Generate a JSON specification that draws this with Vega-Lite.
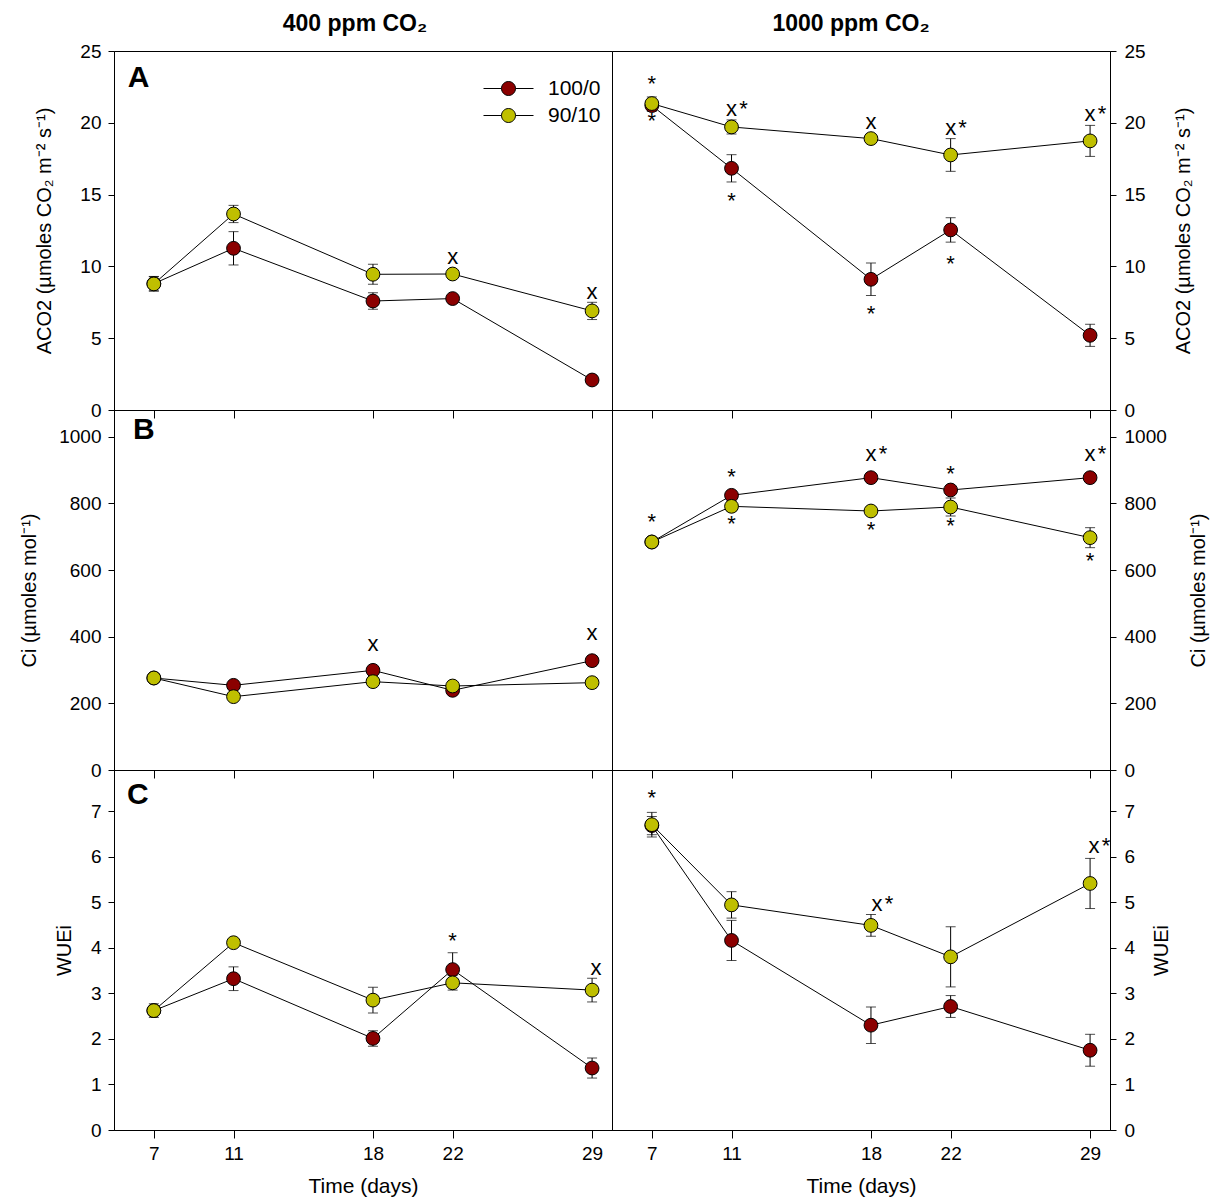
{
  "$schema": "https://vega.github.io/schema/vega-lite/v6.json",
  "padding": {"left": 19, "top": 12, "right": 5, "bottom": 5},
  "background": "white",
  "config": {
    "font": "Liberation Sans",
    "view": {"stroke": "black", "strokeWidth": 1},
    "axis": {"grid": false, "domainColor": "black", "tickColor": "black", "labelColor": "black", "titleColor": "black", "titleFontWeight": "normal", "labelFontSize": 19, "titleFontSize": 20, "labelFont": "Liberation Sans", "titleFont": "Liberation Sans", "labelFlush": false, "labelOverlap": false, "tickSize": 6, "labelPadding": 7},
    "title": {"font": "Liberation Sans", "color": "black", "fontSize": 23, "fontWeight": "bold", "offset": 6, "anchor": "middle"},
    "legend": {"labelFont": "Liberation Sans", "labelColor": "black"}
  },
  "datasets": {
    "obs": [
      {"panel": "A400", "series": "100/0", "day": 7, "value": 8.8, "err": 0.5},
      {"panel": "A400", "series": "100/0", "day": 11, "value": 11.26, "err": 1.16},
      {"panel": "A400", "series": "100/0", "day": 18, "value": 7.59, "err": 0.58},
      {"panel": "A400", "series": "100/0", "day": 22, "value": 7.76, "err": 0.15},
      {"panel": "A400", "series": "100/0", "day": 29, "value": 2.09, "err": 0.15},
      {"panel": "A400", "series": "90/10", "day": 7, "value": 8.78, "err": 0.5},
      {"panel": "A400", "series": "90/10", "day": 11, "value": 13.65, "err": 0.6},
      {"panel": "A400", "series": "90/10", "day": 18, "value": 9.45, "err": 0.7},
      {"panel": "A400", "series": "90/10", "day": 22, "value": 9.47, "err": 0.15},
      {"panel": "A400", "series": "90/10", "day": 29, "value": 6.9, "err": 0.6},
      {"panel": "A1000", "series": "100/0", "day": 7, "value": 21.2, "err": 0.4},
      {"panel": "A1000", "series": "100/0", "day": 11, "value": 16.83, "err": 0.95},
      {"panel": "A1000", "series": "100/0", "day": 18, "value": 9.1, "err": 1.13},
      {"panel": "A1000", "series": "100/0", "day": 22, "value": 12.54, "err": 0.85},
      {"panel": "A1000", "series": "100/0", "day": 29, "value": 5.2, "err": 0.77},
      {"panel": "A1000", "series": "90/10", "day": 7, "value": 21.34, "err": 0.46},
      {"panel": "A1000", "series": "90/10", "day": 11, "value": 19.71, "err": 0.49},
      {"panel": "A1000", "series": "90/10", "day": 18, "value": 18.9, "err": 0.3},
      {"panel": "A1000", "series": "90/10", "day": 22, "value": 17.76, "err": 1.14},
      {"panel": "A1000", "series": "90/10", "day": 29, "value": 18.74, "err": 1.08},
      {"panel": "B400", "series": "100/0", "day": 7, "value": 276, "err": 10},
      {"panel": "B400", "series": "100/0", "day": 11, "value": 254, "err": 10},
      {"panel": "B400", "series": "100/0", "day": 18, "value": 299, "err": 10},
      {"panel": "B400", "series": "100/0", "day": 22, "value": 239, "err": 10},
      {"panel": "B400", "series": "100/0", "day": 29, "value": 328, "err": 15},
      {"panel": "B400", "series": "90/10", "day": 7, "value": 276, "err": 8},
      {"panel": "B400", "series": "90/10", "day": 11, "value": 220, "err": 8},
      {"panel": "B400", "series": "90/10", "day": 18, "value": 265, "err": 8},
      {"panel": "B400", "series": "90/10", "day": 22, "value": 252, "err": 8},
      {"panel": "B400", "series": "90/10", "day": 29, "value": 262, "err": 15},
      {"panel": "B1000", "series": "100/0", "day": 7, "value": 684, "err": 8},
      {"panel": "B1000", "series": "100/0", "day": 11, "value": 824, "err": 10},
      {"panel": "B1000", "series": "100/0", "day": 18, "value": 877, "err": 8},
      {"panel": "B1000", "series": "100/0", "day": 22, "value": 840, "err": 8},
      {"panel": "B1000", "series": "100/0", "day": 29, "value": 877, "err": 8},
      {"panel": "B1000", "series": "90/10", "day": 7, "value": 684, "err": 10},
      {"panel": "B1000", "series": "90/10", "day": 11, "value": 791, "err": 15},
      {"panel": "B1000", "series": "90/10", "day": 18, "value": 777, "err": 10},
      {"panel": "B1000", "series": "90/10", "day": 22, "value": 789, "err": 27},
      {"panel": "B1000", "series": "90/10", "day": 29, "value": 697, "err": 30},
      {"panel": "C400", "series": "100/0", "day": 7, "value": 2.62, "err": 0.1},
      {"panel": "C400", "series": "100/0", "day": 11, "value": 3.32, "err": 0.26},
      {"panel": "C400", "series": "100/0", "day": 18, "value": 2.01, "err": 0.17},
      {"panel": "C400", "series": "100/0", "day": 22, "value": 3.52, "err": 0.37},
      {"panel": "C400", "series": "100/0", "day": 29, "value": 1.36, "err": 0.22},
      {"panel": "C400", "series": "90/10", "day": 7, "value": 2.62, "err": 0.15},
      {"panel": "C400", "series": "90/10", "day": 11, "value": 4.11, "err": 0.05},
      {"panel": "C400", "series": "90/10", "day": 18, "value": 2.85, "err": 0.28},
      {"panel": "C400", "series": "90/10", "day": 22, "value": 3.23, "err": 0.16},
      {"panel": "C400", "series": "90/10", "day": 29, "value": 3.07, "err": 0.26},
      {"panel": "C1000", "series": "100/0", "day": 7, "value": 6.68, "err": 0.2},
      {"panel": "C1000", "series": "100/0", "day": 11, "value": 4.16, "err": 0.44},
      {"panel": "C1000", "series": "100/0", "day": 18, "value": 2.3, "err": 0.4},
      {"panel": "C1000", "series": "100/0", "day": 22, "value": 2.71, "err": 0.24},
      {"panel": "C1000", "series": "100/0", "day": 29, "value": 1.75, "err": 0.35},
      {"panel": "C1000", "series": "90/10", "day": 7, "value": 6.7, "err": 0.27},
      {"panel": "C1000", "series": "90/10", "day": 11, "value": 4.94, "err": 0.29},
      {"panel": "C1000", "series": "90/10", "day": 18, "value": 4.49, "err": 0.24},
      {"panel": "C1000", "series": "90/10", "day": 22, "value": 3.8, "err": 0.66},
      {"panel": "C1000", "series": "90/10", "day": 29, "value": 5.41, "err": 0.55}
    ],
    "ann": [
      {"panel": "A400", "day": 6.23, "value": 23.26, "label": "A"},
      {"panel": "A400", "day": 22, "value": 10.61, "label": "x"},
      {"panel": "A400", "day": 29, "value": 8.18, "label": "x"},
      {"panel": "A1000", "day": 7, "value": 23.1, "label": "*"},
      {"panel": "A1000", "day": 7, "value": 20.52, "label": "*"},
      {"panel": "A1000", "day": 11, "value": 20.89, "label": "x*"},
      {"panel": "A1000", "day": 11, "value": 14.95, "label": "*"},
      {"panel": "A1000", "day": 18, "value": 20.01, "label": "x"},
      {"panel": "A1000", "day": 18, "value": 7.13, "label": "*"},
      {"panel": "A1000", "day": 22, "value": 19.6, "label": "x*"},
      {"panel": "A1000", "day": 22, "value": 10.61, "label": "*"},
      {"panel": "A1000", "day": 29, "value": 20.52, "label": "x*"},
      {"panel": "B400", "day": 6.5, "value": 1025, "label": "B"},
      {"panel": "B400", "day": 18, "value": 375, "label": "x"},
      {"panel": "B400", "day": 29, "value": 407, "label": "x"},
      {"panel": "B1000", "day": 7, "value": 762, "label": "*"},
      {"panel": "B1000", "day": 11, "value": 897, "label": "*"},
      {"panel": "B1000", "day": 11, "value": 757, "label": "*"},
      {"panel": "B1000", "day": 18, "value": 945, "label": "x*"},
      {"panel": "B1000", "day": 18, "value": 737, "label": "*"},
      {"panel": "B1000", "day": 22, "value": 907, "label": "*"},
      {"panel": "B1000", "day": 22, "value": 749, "label": "*"},
      {"panel": "B1000", "day": 29, "value": 945, "label": "x*"},
      {"panel": "B1000", "day": 29, "value": 645, "label": "*"},
      {"panel": "C400", "day": 6.2, "value": 7.4, "label": "C"},
      {"panel": "C400", "day": 22, "value": 4.28, "label": "*"},
      {"panel": "C400", "day": 29.2, "value": 3.54, "label": "x"},
      {"panel": "C1000", "day": 7, "value": 7.42, "label": "*"},
      {"panel": "C1000", "day": 18.3, "value": 4.93, "label": "x*"},
      {"panel": "C1000", "day": 29.2, "value": 6.2, "label": "x*"}
    ]
  },
  "columns": 2,
  "spacing": 0,
  "bounds": "flush",
  "resolve": {"scale": {"x": "independent", "y": "independent", "fill": "independent"}, "axis": {"x": "independent", "y": "independent"}, "legend": {"fill": "independent"}},
  "concat": [
    {
      "width": 498, "height": 359,
      "title": {"text": "400 ppm CO₂", "dx": -8},
      "encoding": {
        "x": {"field": "day", "type": "quantitative", "scale": {"domain": [5, 30], "nice": false, "zero": false}, "axis": {"values": [7, 11, 18, 22, 29], "labels": false, "title": null, "tickSize": 8}},
        "y": {"field": "value", "type": "quantitative", "scale": {"domain": [0, 25], "nice": false}, "axis": {"orient": "left", "values": [0, 5, 10, 15, 20, 25], "format": "d", "title": "ACO2 (µmoles CO₂ m⁻² s⁻¹)", "titlePadding": 25}}
      },
      "layer": [
        {"data": {"name": "obs"}, "transform": [{"filter": "datum.panel === 'A400'"}], "mark": {"type": "errorbar", "color": "black", "ticks": {"size": 10}}, "encoding": {"yError": {"field": "err"}}},
        {"data": {"name": "obs"}, "transform": [{"filter": "datum.panel === 'A400'"}], "mark": {"type": "line", "color": "black", "strokeWidth": 1}, "encoding": {"detail": {"field": "series"}}},
        {"data": {"name": "ann"}, "transform": [{"filter": "datum.panel === 'A400' && (datum.label === 'x' || datum.label === 'x*')"}], "mark": {"type": "text", "text": "x", "fontSize": 22, "baseline": "alphabetic", "dy": 6, "color": "black"}},
        {"data": {"name": "ann"}, "transform": [{"filter": "datum.panel === 'A400' && (datum.label === 'A' || datum.label === 'B' || datum.label === 'C')"}], "mark": {"type": "text", "fontSize": 30, "fontWeight": "bold", "baseline": "alphabetic", "dy": 11, "color": "black"}, "encoding": {"text": {"field": "label"}}},
        {"data": {"name": "obs"}, "transform": [{"filter": "datum.panel === 'A400'"}], "mark": {"type": "point", "shape": "circle", "filled": true, "size": 190, "stroke": "black", "strokeWidth": 1, "opacity": 1},
          "encoding": {"fill": {"field": "series", "type": "nominal", "scale": {"domain": ["100/0", "90/10"], "range": ["#8B0000", "#BFBF00"]},
            "legend": {"title": null, "orient": "none", "legendX": 369, "legendY": 24, "symbolType": "M-1,0L-0.28,0M0.28,0L1,0M0.28,0A0.28,0.28,0,1,1,-0.28,0A0.28,0.28,0,1,1,0.28,0Z", "symbolSize": 2500, "symbolStrokeColor": "black", "symbolStrokeWidth": 1, "symbolOpacity": 1, "labelFontSize": 21, "labelOffset": 14, "clipHeight": 27, "rowPadding": 0, "padding": 0}}}}
      ]
    },
    {
      "width": 498, "height": 359,
      "title": {"text": "1000 ppm CO₂", "dx": -10},
      "encoding": {
        "x": {"field": "day", "type": "quantitative", "scale": {"domain": [5, 30], "nice": false, "zero": false}, "axis": {"values": [7, 11, 18, 22, 29], "labels": false, "title": null, "tickSize": 8}},
        "y": {"field": "value", "type": "quantitative", "scale": {"domain": [0, 25], "nice": false}, "axis": {"orient": "right", "values": [0, 5, 10, 15, 20, 25], "format": "d", "labelPadding": 8, "title": "ACO2 (µmoles CO₂ m⁻² s⁻¹)", "titleAngle": 270, "titleBaseline": "top", "titlePadding": 28}}
      },
      "layer": [
        {"data": {"name": "obs"}, "transform": [{"filter": "datum.panel === 'A1000'"}], "mark": {"type": "errorbar", "color": "black", "ticks": {"size": 10}}, "encoding": {"yError": {"field": "err"}}},
        {"data": {"name": "obs"}, "transform": [{"filter": "datum.panel === 'A1000'"}], "mark": {"type": "line", "color": "black", "strokeWidth": 1}, "encoding": {"detail": {"field": "series"}}},
        {"data": {"name": "ann"}, "transform": [{"filter": "datum.panel === 'A1000' && (datum.label === 'x' || datum.label === 'x*')"}], "mark": {"type": "text", "text": "x", "fontSize": 22, "baseline": "alphabetic", "dy": 6, "color": "black"}},
        {"data": {"name": "ann"}, "transform": [{"filter": "datum.panel === 'A1000' && datum.label === '*'"}], "mark": {"type": "text", "text": "*", "fontSize": 22, "baseline": "alphabetic", "dy": 13, "color": "black"}},
        {"data": {"name": "ann"}, "transform": [{"filter": "datum.panel === 'A1000' && datum.label === 'x*'"}], "mark": {"type": "text", "text": "*", "fontSize": 22, "baseline": "alphabetic", "dx": 12, "dy": 6, "color": "black"}},
        {"data": {"name": "obs"}, "transform": [{"filter": "datum.panel === 'A1000'"}], "mark": {"type": "point", "shape": "circle", "filled": true, "size": 190, "stroke": "black", "strokeWidth": 1, "opacity": 1},
          "encoding": {"fill": {"field": "series", "type": "nominal", "scale": {"domain": ["100/0", "90/10"], "range": ["#8B0000", "#BFBF00"]}, "legend": null}}}
      ]
    },
    {
      "width": 498, "height": 360,
      "encoding": {
        "x": {"field": "day", "type": "quantitative", "scale": {"domain": [5, 30], "nice": false, "zero": false}, "axis": {"values": [7, 11, 18, 22, 29], "labels": false, "title": null, "tickSize": 8}},
        "y": {"field": "value", "type": "quantitative", "scale": {"domain": [0, 1080], "nice": false}, "axis": {"orient": "left", "values": [0, 200, 400, 600, 800, 1000], "format": "d", "title": "Ci (µmoles mol⁻¹)", "titlePadding": 19}}
      },
      "layer": [
        {"data": {"name": "obs"}, "transform": [{"filter": "datum.panel === 'B400'"}], "mark": {"type": "errorbar", "color": "black", "ticks": {"size": 10}}, "encoding": {"yError": {"field": "err"}}},
        {"data": {"name": "obs"}, "transform": [{"filter": "datum.panel === 'B400'"}], "mark": {"type": "line", "color": "black", "strokeWidth": 1}, "encoding": {"detail": {"field": "series"}}},
        {"data": {"name": "ann"}, "transform": [{"filter": "datum.panel === 'B400' && (datum.label === 'x' || datum.label === 'x*')"}], "mark": {"type": "text", "text": "x", "fontSize": 22, "baseline": "alphabetic", "dy": 6, "color": "black"}},
        {"data": {"name": "ann"}, "transform": [{"filter": "datum.panel === 'B400' && (datum.label === 'A' || datum.label === 'B' || datum.label === 'C')"}], "mark": {"type": "text", "fontSize": 30, "fontWeight": "bold", "baseline": "alphabetic", "dy": 11, "color": "black"}, "encoding": {"text": {"field": "label"}}},
        {"data": {"name": "obs"}, "transform": [{"filter": "datum.panel === 'B400'"}], "mark": {"type": "point", "shape": "circle", "filled": true, "size": 190, "stroke": "black", "strokeWidth": 1, "opacity": 1},
          "encoding": {"fill": {"field": "series", "type": "nominal", "scale": {"domain": ["100/0", "90/10"], "range": ["#8B0000", "#BFBF00"]}, "legend": null}}}
      ]
    },
    {
      "width": 498, "height": 360,
      "encoding": {
        "x": {"field": "day", "type": "quantitative", "scale": {"domain": [5, 30], "nice": false, "zero": false}, "axis": {"values": [7, 11, 18, 22, 29], "labels": false, "title": null, "tickSize": 8}},
        "y": {"field": "value", "type": "quantitative", "scale": {"domain": [0, 1080], "nice": false}, "axis": {"orient": "right", "values": [0, 200, 400, 600, 800, 1000], "format": "d", "labelPadding": 8, "title": "Ci (µmoles mol⁻¹)", "titleAngle": 270, "titleBaseline": "top", "titlePadding": 22}}
      },
      "layer": [
        {"data": {"name": "obs"}, "transform": [{"filter": "datum.panel === 'B1000'"}], "mark": {"type": "errorbar", "color": "black", "ticks": {"size": 10}}, "encoding": {"yError": {"field": "err"}}},
        {"data": {"name": "obs"}, "transform": [{"filter": "datum.panel === 'B1000'"}], "mark": {"type": "line", "color": "black", "strokeWidth": 1}, "encoding": {"detail": {"field": "series"}}},
        {"data": {"name": "ann"}, "transform": [{"filter": "datum.panel === 'B1000' && (datum.label === 'x' || datum.label === 'x*')"}], "mark": {"type": "text", "text": "x", "fontSize": 22, "baseline": "alphabetic", "dy": 6, "color": "black"}},
        {"data": {"name": "ann"}, "transform": [{"filter": "datum.panel === 'B1000' && datum.label === '*'"}], "mark": {"type": "text", "text": "*", "fontSize": 22, "baseline": "alphabetic", "dy": 13, "color": "black"}},
        {"data": {"name": "ann"}, "transform": [{"filter": "datum.panel === 'B1000' && datum.label === 'x*'"}], "mark": {"type": "text", "text": "*", "fontSize": 22, "baseline": "alphabetic", "dx": 12, "dy": 6, "color": "black"}},
        {"data": {"name": "obs"}, "transform": [{"filter": "datum.panel === 'B1000'"}], "mark": {"type": "point", "shape": "circle", "filled": true, "size": 190, "stroke": "black", "strokeWidth": 1, "opacity": 1},
          "encoding": {"fill": {"field": "series", "type": "nominal", "scale": {"domain": ["100/0", "90/10"], "range": ["#8B0000", "#BFBF00"]}, "legend": null}}}
      ]
    },
    {
      "width": 498, "height": 360,
      "encoding": {
        "x": {"field": "day", "type": "quantitative", "scale": {"domain": [5, 30], "nice": false, "zero": false}, "axis": {"values": [7, 11, 18, 22, 29], "title": "Time (days)", "titleFontSize": 21, "titlePadding": 12, "tickSize": 8, "labelPadding": 6}},
        "y": {"field": "value", "type": "quantitative", "scale": {"domain": [0, 7.9], "nice": false}, "axis": {"orient": "left", "values": [0, 1, 2, 3, 4, 5, 6, 7], "format": "d", "title": "WUEi", "titlePadding": 16}}
      },
      "layer": [
        {"data": {"name": "obs"}, "transform": [{"filter": "datum.panel === 'C400'"}], "mark": {"type": "errorbar", "color": "black", "ticks": {"size": 10}}, "encoding": {"yError": {"field": "err"}}},
        {"data": {"name": "obs"}, "transform": [{"filter": "datum.panel === 'C400'"}], "mark": {"type": "line", "color": "black", "strokeWidth": 1}, "encoding": {"detail": {"field": "series"}}},
        {"data": {"name": "ann"}, "transform": [{"filter": "datum.panel === 'C400' && (datum.label === 'x' || datum.label === 'x*')"}], "mark": {"type": "text", "text": "x", "fontSize": 22, "baseline": "alphabetic", "dy": 6, "color": "black"}},
        {"data": {"name": "ann"}, "transform": [{"filter": "datum.panel === 'C400' && datum.label === '*'"}], "mark": {"type": "text", "text": "*", "fontSize": 22, "baseline": "alphabetic", "dy": 13, "color": "black"}},
        {"data": {"name": "ann"}, "transform": [{"filter": "datum.panel === 'C400' && (datum.label === 'A' || datum.label === 'B' || datum.label === 'C')"}], "mark": {"type": "text", "fontSize": 30, "fontWeight": "bold", "baseline": "alphabetic", "dy": 11, "color": "black"}, "encoding": {"text": {"field": "label"}}},
        {"data": {"name": "obs"}, "transform": [{"filter": "datum.panel === 'C400'"}], "mark": {"type": "point", "shape": "circle", "filled": true, "size": 190, "stroke": "black", "strokeWidth": 1, "opacity": 1},
          "encoding": {"fill": {"field": "series", "type": "nominal", "scale": {"domain": ["100/0", "90/10"], "range": ["#8B0000", "#BFBF00"]}, "legend": null}}}
      ]
    },
    {
      "width": 498, "height": 360,
      "encoding": {
        "x": {"field": "day", "type": "quantitative", "scale": {"domain": [5, 30], "nice": false, "zero": false}, "axis": {"values": [7, 11, 18, 22, 29], "title": "Time (days)", "titleFontSize": 21, "titlePadding": 12, "tickSize": 8, "labelPadding": 6}},
        "y": {"field": "value", "type": "quantitative", "scale": {"domain": [0, 7.9], "nice": false}, "axis": {"orient": "right", "values": [0, 1, 2, 3, 4, 5, 6, 7], "format": "d", "labelPadding": 8, "title": "WUEi", "titleAngle": 270, "titleBaseline": "top", "titlePadding": 17}}
      },
      "layer": [
        {"data": {"name": "obs"}, "transform": [{"filter": "datum.panel === 'C1000'"}], "mark": {"type": "errorbar", "color": "black", "ticks": {"size": 10}}, "encoding": {"yError": {"field": "err"}}},
        {"data": {"name": "obs"}, "transform": [{"filter": "datum.panel === 'C1000'"}], "mark": {"type": "line", "color": "black", "strokeWidth": 1}, "encoding": {"detail": {"field": "series"}}},
        {"data": {"name": "ann"}, "transform": [{"filter": "datum.panel === 'C1000' && (datum.label === 'x' || datum.label === 'x*')"}], "mark": {"type": "text", "text": "x", "fontSize": 22, "baseline": "alphabetic", "dy": 6, "color": "black"}},
        {"data": {"name": "ann"}, "transform": [{"filter": "datum.panel === 'C1000' && datum.label === '*'"}], "mark": {"type": "text", "text": "*", "fontSize": 22, "baseline": "alphabetic", "dy": 13, "color": "black"}},
        {"data": {"name": "ann"}, "transform": [{"filter": "datum.panel === 'C1000' && datum.label === 'x*'"}], "mark": {"type": "text", "text": "*", "fontSize": 22, "baseline": "alphabetic", "dx": 12, "dy": 6, "color": "black"}},
        {"data": {"name": "obs"}, "transform": [{"filter": "datum.panel === 'C1000'"}], "mark": {"type": "point", "shape": "circle", "filled": true, "size": 190, "stroke": "black", "strokeWidth": 1, "opacity": 1},
          "encoding": {"fill": {"field": "series", "type": "nominal", "scale": {"domain": ["100/0", "90/10"], "range": ["#8B0000", "#BFBF00"]}, "legend": null}}}
      ]
    }
  ]
}
